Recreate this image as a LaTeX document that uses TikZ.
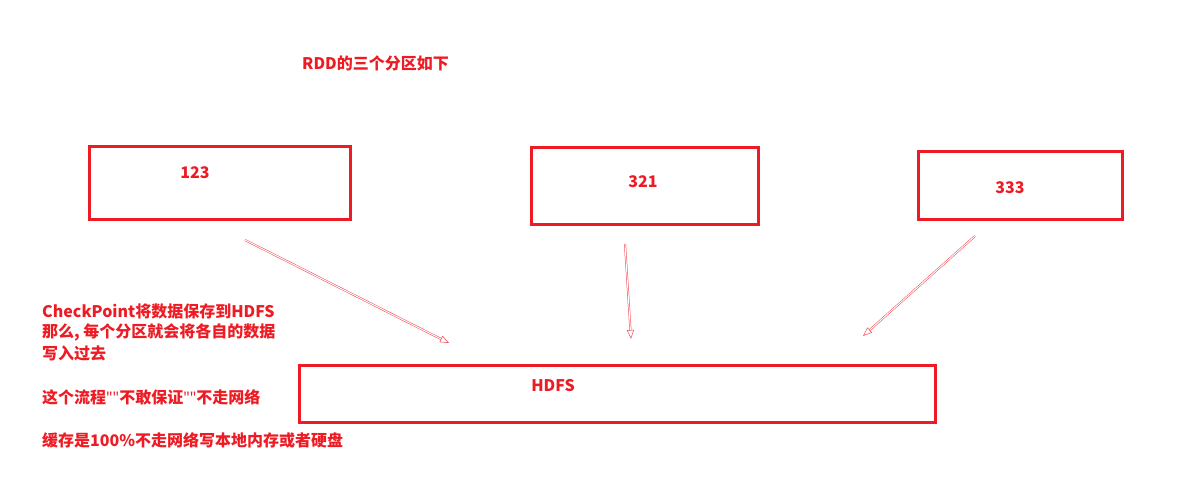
\documentclass[tikz,border=0pt]{standalone}
\usepackage{fontspec}
\setmainfont{Noto Sans CJK SC}
\newfontfamily\lat{Noto Sans}
\usetikzlibrary{arrows.meta}
\definecolor{rd}{RGB}{237,28,36}
\definecolor{ar}{RGB}{240,70,80}
\begin{document}
\begin{tikzpicture}[x=1bp,y=-1bp,
  part/.style={draw=rd,line width=2.6bp,inner sep=0pt,anchor=north west},
  lbl/.style={text=rd,font=\fontsize{16bp}{19bp}\selectfont\bfseries,inner sep=0pt,anchor=west},
  flow/.style={draw=ar,line width=0.5bp,double=white,double distance=1bp,-{Triangle[open,length=9bp,width=7bp]}}]
\useasboundingbox (0,0) rectangle (1191,479);
\node[part,minimum width=261bp,minimum height=73bp] (p1) at (88,145) {};
\node[part,minimum width=227bp,minimum height=77bp] (p2) at (530,146) {};
\node[part,minimum width=204bp,minimum height=68bp] (p3) at (917,150) {};
\node[part,minimum width=636bp,minimum height=57bp] (h) at (298,364) {};
\node[lbl] (t0) at (302,63) {RDD的三个分区如下};
\node[lbl,anchor=center] (n1) at (195,173) {123};
\node[lbl,anchor=center] (n2) at (643,182) {321};
\node[lbl,anchor=center] (n3) at (1010,188) {333};
\node[lbl,anchor=center] (hl) at (553,386) {HDFS};
\node[lbl] (l1) at (42,311) {CheckPoint将数据保存到HDFS};
\node[lbl] (l2) at (42,332) {那么, 每个分区就会将各自的数据};
\node[lbl] (l3) at (42,353) {写入过去};
\node[lbl] (l4) at (42,397) {这个流程{\lat""}不敢保证{\lat""}不走网络};
\node[lbl] (l5) at (42,440) {缓存是100\%不走网络写本地内存或者硬盘};
\coordinate (a1s) at (245,240); \coordinate (a1e) at (449,343);
\coordinate (a2s) at (625,244); \coordinate (a2e) at (631,339);
\coordinate (a3s) at (975,236); \coordinate (a3e) at (863,336);
\draw[flow] (a1s) -- (a1e);
\draw[flow] (a2s) -- (a2e);
\draw[flow] (a3s) -- (a3e);
\end{tikzpicture}
\end{document}
